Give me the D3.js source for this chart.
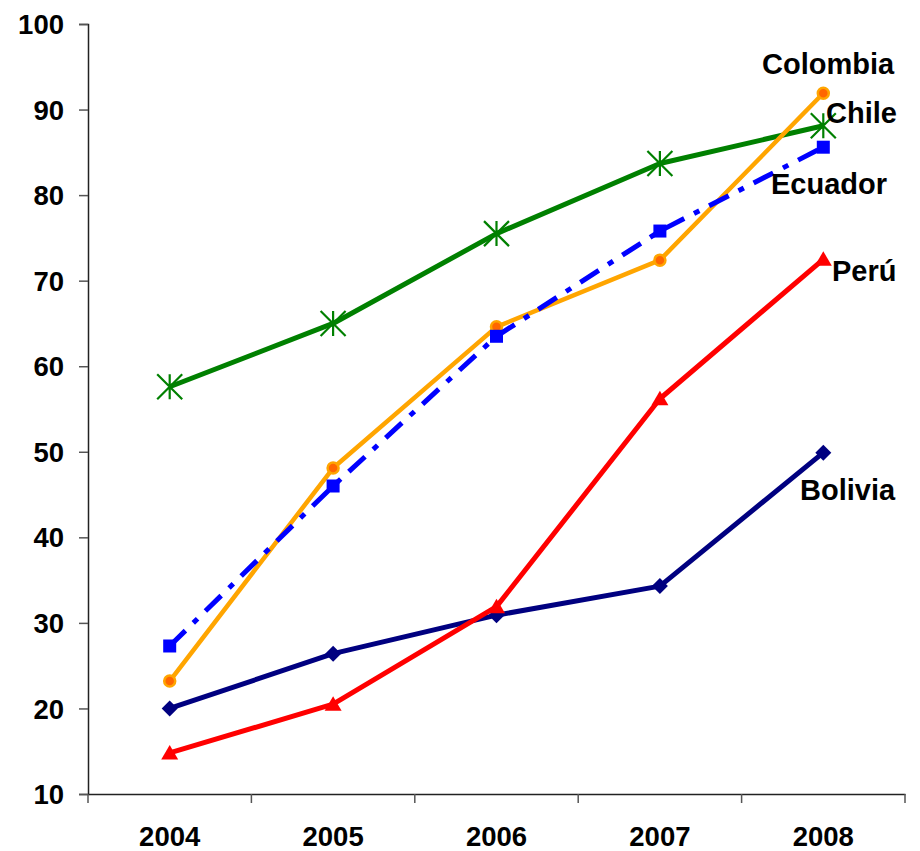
<!DOCTYPE html>
<html><head><meta charset="utf-8">
<script src="https://cdn.jsdelivr.net/npm/d3@7"></script>
<style>
html,body{margin:0;padding:0;background:#fff;}
svg{display:block;font-family:"Liberation Sans",Arial,sans-serif;font-weight:bold;}
</style></head>
<body>
<svg id="c" width="920" height="851"></svg>
<script>
const years = ["2004","2005","2006","2007","2008"];
const yTicks = [10,20,30,40,50,60,70,80,90,100];
const chile    = [57.6, 65.0, 75.5, 83.7, 88.1];
const colombia = [23.2, 48.1, 64.6, 72.4, 91.9];
const ecuador  = [27.3, 46.0, 63.5, 75.8, 85.6];
const peru     = [14.8, 20.5, 31.9, 56.2, 72.5];
const bolivia  = [20.0, 26.4, 30.9, 34.3, 49.9];

const series = [
  {name:"Bolivia", values:bolivia, color:"#000080", marker:"diamond", dash:null, width:5, lx:800, ly:500},
  {name:"Chile", values:chile, color:"#008000", marker:"asterisk", dash:null, width:5, lx:826, ly:123},
  {name:"Colombia", values:colombia, color:"#FFA500", marker:"circle", dash:null, width:4.5, lx:762, ly:74},
  {name:"Ecuador", values:ecuador, color:"#0000FF", marker:"square", dash:"22,11,6,11", width:5, lx:771, ly:194},
  {name:"Perú", values:peru, color:"#FF0000", marker:"triangle", dash:null, width:5, lx:832, ly:281}
];

const svg = d3.select("#c");
const x = d3.scaleBand().domain(years).range([88, 905]).padding(0);
const y = d3.scaleLinear().domain([10, 100]).range([794, 24]);
const cx = d => x(d) + x.bandwidth()/2;

// Y axis
const yAxis = svg.append("g").attr("transform","translate(88,0)")
  .call(d3.axisLeft(y).tickValues(yTicks).tickSize(9).tickPadding(15));
yAxis.select(".domain").attr("stroke","#222").attr("stroke-width",1.5);
yAxis.selectAll(".tick line").attr("stroke","#555").attr("stroke-width",1.5);
yAxis.selectAll(".tick text").attr("font-size",27.5).attr("font-weight","bold")
  .attr("fill","#000").attr("font-family","Liberation Sans, Arial, sans-serif").attr("dy","0.35em");

// X axis
const xAxis = svg.append("g").attr("transform","translate(0,794)")
  .call(d3.axisBottom(x).tickSize(0).tickPadding(32));
xAxis.select(".domain").attr("stroke","#222").attr("stroke-width",1.5);
xAxis.selectAll(".tick text").attr("font-size",27.5).attr("font-weight","bold")
  .attr("fill","#000").attr("font-family","Liberation Sans, Arial, sans-serif");
// band boundary tick marks
const bounds = years.map(d => x(d)).concat([x(years[years.length-1]) + x.bandwidth()]);
svg.append("g").selectAll("line").data(bounds).join("line")
  .attr("x1", d=>d).attr("x2", d=>d).attr("y1",794).attr("y2",803)
  .attr("stroke","#555").attr("stroke-width",1.5);

const line = d3.line().x((v,i)=>cx(years[i])).y(v=>y(v));

series.forEach(s => {
  const g = svg.append("g");
  g.append("path").attr("d", line(s.values)).attr("fill","none")
    .attr("stroke", s.color).attr("stroke-width", s.width)
    .attr("stroke-dasharray", s.dash).attr("stroke-linejoin","round");
  const pts = s.values.map((v,i)=>[cx(years[i]), y(v)]);
  pts.forEach(([px,py]) => {
    if (s.marker === "circle") {
      g.append("circle").attr("cx",px).attr("cy",py).attr("r",5.5)
        .attr("fill","#FF6600").attr("stroke","#FFA500").attr("stroke-width",2.5);
    } else if (s.marker === "square") {
      g.append("rect").attr("x",px-6.5).attr("y",py-6.5).attr("width",13).attr("height",13).attr("fill",s.color);
    } else if (s.marker === "diamond") {
      g.append("path").attr("d",`M${px},${py-8}L${px+8},${py}L${px},${py+8}L${px-8},${py}Z`).attr("fill",s.color);
    } else if (s.marker === "triangle") {
      g.append("path").attr("d",`M${px},${py-8}L${px+8.5},${py+6.5}L${px-8.5},${py+6.5}Z`).attr("fill",s.color);
    } else if (s.marker === "asterisk") {
      const r = 12.5;
      g.append("path").attr("d",`M${px},${py-r}L${px},${py+r}M${px-r},${py-r}L${px+r},${py+r}M${px+r},${py-r}L${px-r},${py+r}`)
        .attr("stroke",s.color).attr("stroke-width",2.2).attr("fill","none");
    }
  });
});

// series labels
svg.append("g").selectAll("text").data(series).join("text")
  .attr("x", d=>d.lx).attr("y", d=>d.ly)
  .attr("font-size",29).attr("font-weight","bold").attr("fill","#000")
  .text(d=>d.name);
</script>
</body></html>
